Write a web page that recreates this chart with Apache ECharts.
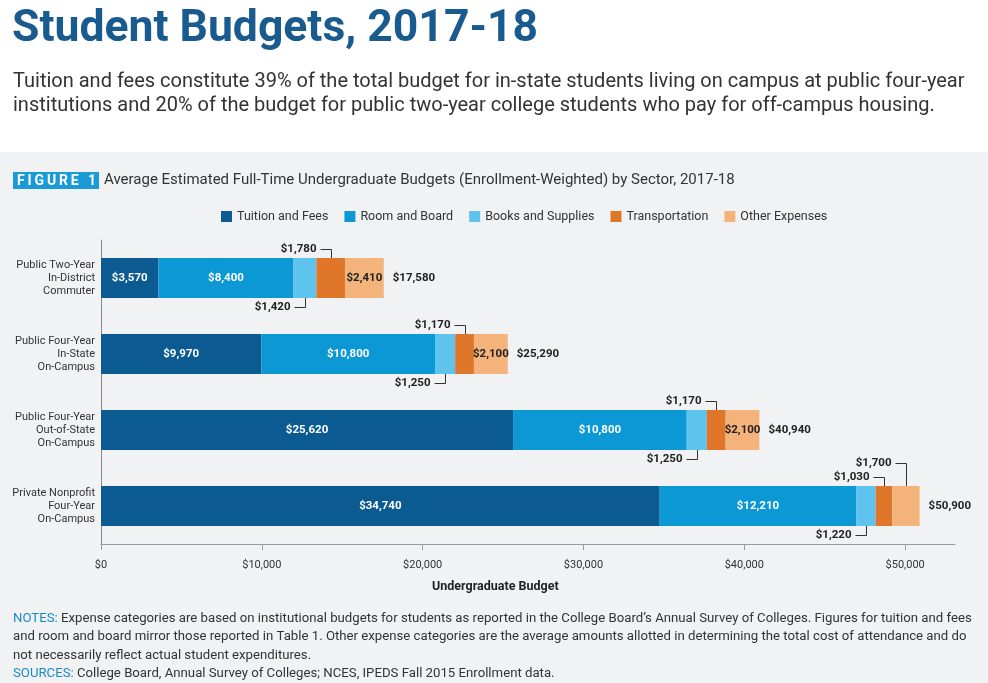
<!DOCTYPE html>
<html><head><meta charset="utf-8">
<script src="https://cdn.jsdelivr.net/npm/echarts@6/dist/echarts.min.js"></script>
<style>html,body{margin:0;padding:0;background:#fff}#c{width:988px;height:683px}</style>
</head><body><div id="c"></div>
<script>
// ---- data ----
const categories = ['Public Two-Year\nIn-District\nCommuter', 'Public Four-Year\nIn-State\nOn-Campus', 'Public Four-Year\nOut-of-State\nOn-Campus', 'Private Nonprofit\nFour-Year\nOn-Campus'];
const seriesNames = ['Tuition and Fees', 'Room and Board', 'Books and Supplies', 'Transportation', 'Other Expenses'];
const tuition = [3570, 9970, 25620, 34740];
const roomBoard = [8400, 10800, 10800, 12210];
const books = [1420, 1250, 1250, 1220];
const transport = [1780, 1170, 1170, 1030];
const other = [2410, 2100, 2100, 1700];
const totals = [17580, 25290, 40940, 50900];
const tickValues = [0, 10000, 20000, 30000, 40000, 50000];

const colors = ['#0b5a92', '#0b98d5', '#5ec4ee', '#e0762a', '#f5b37c'];
const FONT = 'Roboto';
const fmt = v => '$' + Number(v).toLocaleString('en-US');
const seriesValues = [tuition, roomBoard, books, transport, other];

// callouts: books below, transportation above, narrow "other" above (second level)
const callouts = [];
categories.forEach((c, i) => {
  const b0 = tuition[i] + roomBoard[i];
  const t0 = b0 + books[i];
  const o0 = t0 + transport[i];
  callouts.push({v: [i, b0, t0], text: fmt(books[i]), side: -1, level: 0});
  callouts.push({v: [i, t0, o0], text: fmt(transport[i]), side: 1, level: 0});
  if (other[i] < 2000) callouts.push({v: [i, o0, o0 + other[i]], text: fmt(other[i]), side: 1, level: 1});
});

const barSeries = seriesNames.map((name, k) => {
  const s = {
    name, type: 'bar', stack: 'total', barWidth: 40,
    itemStyle: {color: colors[k]},
    data: seriesValues[k],
    label: {show: false}
  };
  if (k < 2) {
    s.label = {show: true, position: 'inside', color: '#fff', fontFamily: FONT, fontWeight: 'bold', fontSize: 11.5, formatter: p => fmt(p.value)};
  } else if (k === 4) {
    s.label = {show: true, position: 'inside', color: '#222', fontFamily: FONT, fontWeight: 'bold', fontSize: 11.5, formatter: p => p.value < 2000 ? '' : fmt(p.value)};
  }
  return s;
});

const calloutSeries = {
  type: 'custom', name: 'callouts', coordinateSystem: 'cartesian2d',
  encode: {x: [1, 2], y: 0}, z: 5, silent: true,
  data: callouts.map(c => c.v),
  renderItem: (params, api) => {
    const c = callouts[params.dataIndex];
    const mid = (api.value(1) + api.value(2)) / 2;
    const p = api.coord([mid, api.value(0)]);
    const x = Math.round(p[0]) + 0.5;
    const edgeY = c.side > 0 ? p[1] - 20 : p[1] + 20;
    const lineY = Math.round(c.side > 0 ? edgeY - 9 - c.level * 14 : edgeY + 9) + 0.5;
    const hx = x - 11;
    return {type: 'group', children: [
      {type: 'polyline', shape: {points: [[hx, lineY], [x, lineY], [x, edgeY]]}, style: {stroke: '#333', lineWidth: 1, fill: null}},
      {type: 'text', style: {text: c.text, x: hx - 4, y: lineY, align: 'right', verticalAlign: 'middle', font: 'bold 11.5px ' + FONT, fill: '#222'}}
    ]};
  }
};

const totalSeries = {
  type: 'custom', name: 'totals', coordinateSystem: 'cartesian2d',
  encode: {x: 0, y: 1}, z: 5, silent: true,
  data: totals.map((t, i) => [t, i]),
  renderItem: (params, api) => {
    const p = api.coord([api.value(0), api.value(1)]);
    return {type: 'text', style: {text: fmt(api.value(0)), x: p[0] + 9, y: p[1], align: 'left', verticalAlign: 'middle', font: 'bold 11.5px ' + FONT, fill: '#222'}};
  }
};

const notes = '{b|NOTES:} Expense categories are based on institutional budgets for students as reported in the College Board\u2019s Annual Survey of Colleges. Figures for tuition and fees\nand room and board mirror those reported in Table 1. Other expense categories are the average amounts allotted in determining the total cost of attendance and do\nnot necessarily reflect actual student expenditures.';
const NF = '13.2px ' + FONT;

const chart = echarts.init(document.getElementById('c'), null, {renderer: 'canvas'});
chart.setOption({
  backgroundColor: '#f1f2f3',
  animation: false,
  textStyle: {fontFamily: FONT},
  graphic: [
    {type: 'rect', z: -10, shape: {x: 0, y: 0, width: 988, height: 152}, style: {fill: '#ffffff'}},
    {type: 'text', left: 12, top: 7, style: {text: 'Student Budgets, 2017-18', font: 'bold 44.5px ' + FONT, fill: '#1a5b8f'}},
    {type: 'text', left: 13, top: 70, style: {text: 'Tuition and fees constitute 39% of the total budget for in-state students living on campus at public four-year\ninstitutions and 20% of the budget for public two-year college students who pay for off-campus housing.', font: '20px ' + FONT, lineHeight: 24, fill: '#333'}},
    {type: 'rect', shape: {x: 13, y: 172, width: 86, height: 17}, style: {fill: '#1a9ad6'}},
    {type: 'text', left: 17, top: 173, style: {text: 'F\u2009I\u2009G\u2009U\u2009R\u2009E\u2009\u2009 1', font: 'bold 14px ' + FONT, fill: '#fff', lineHeight: 16}},
    {type: 'text', left: 104, top: 171, style: {text: 'Average Estimated Full-Time Undergraduate Budgets (Enrollment-Weighted) by Sector, 2017-18', font: '15px ' + FONT, fill: '#333', lineHeight: 18}},
    {type: 'text', left: 432, top: 580, style: {text: 'Undergraduate Budget', font: 'bold 12.5px ' + FONT, fill: '#222'}},
    {type: 'text', left: 13, top: 609, style: {text: notes, font: NF, fill: '#333', lineHeight: 18.7, rich: {b: {fill: '#1a8ac6', font: NF, lineHeight: 18.7}}}},
    {type: 'text', left: 13, top: 666, style: {text: '{b|SOURCES:} College Board, Annual Survey of Colleges; NCES, IPEDS Fall 2015 Enrollment data.', font: NF, fill: '#333', lineHeight: 16, rich: {b: {fill: '#1a8ac6', font: NF, lineHeight: 16}}}}
  ],
  legend: {
    data: seriesNames, left: 216, top: 205, icon: 'rect', itemWidth: 11, itemHeight: 11, itemGap: 16,
    textStyle: {fontFamily: FONT, fontSize: 12.5, color: '#333'}, selectedMode: false
  },
  grid: {left: 101, right: 33, top: 240, height: 304, containLabel: false},
  xAxis: {
    type: 'value', min: 0, max: 53100,
    axisLine: {show: true, lineStyle: {color: '#9a9a9a'}},
    axisTick: {show: true, length: 6, customValues: tickValues, lineStyle: {color: '#9a9a9a'}},
    axisLabel: {customValues: tickValues, formatter: v => fmt(v), color: '#333', fontSize: 11, fontFamily: FONT, margin: 16},
    splitLine: {show: false}
  },
  yAxis: {
    type: 'category', data: categories, inverse: true,
    axisLine: {show: true, lineStyle: {color: '#888'}},
    axisTick: {show: false},
    axisLabel: {color: '#333', fontSize: 11, fontFamily: FONT, lineHeight: 13, margin: 6, align: 'right'}
  },
  series: [...barSeries, calloutSeries, totalSeries]
});
</script>
</body></html>
